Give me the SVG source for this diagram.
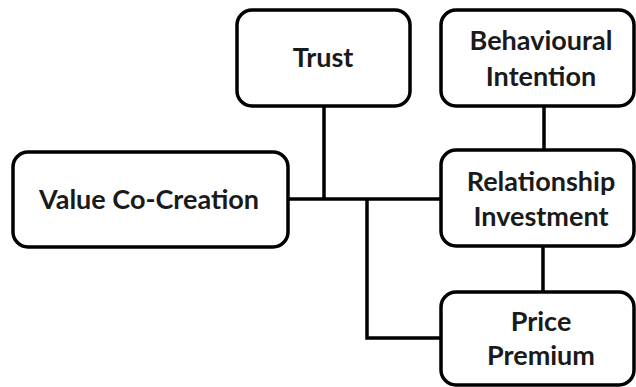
<svg xmlns="http://www.w3.org/2000/svg" width="636" height="387" viewBox="0 0 636 387">
<style>
.box{fill:#fff;stroke:#000;stroke-width:3.5}
.lbl{font-family:Lato,"Open Sans","Liberation Sans",sans-serif;font-weight:bold;font-size:27px;fill:#1a1a1a;text-anchor:middle}
.ln{stroke:#000;stroke-width:3.5;fill:none}
</style>
<rect width="636" height="387" fill="#fff"/>
<g id="connectors">
<line class="ln" x1="324" y1="106" x2="324" y2="199"/>
<line class="ln" x1="288" y1="199" x2="441" y2="199"/>
<polyline class="ln" points="367,199 367,338 441,338"/>
<line class="ln" x1="544" y1="106" x2="544" y2="150"/>
<line class="ln" x1="543" y1="246" x2="543" y2="292"/>
</g>
<g id="trust">
<rect class="box" x="237" y="10" width="173" height="96" rx="15"/>
<text class="lbl" x="323" y="67">Trust</text>
</g>
<g id="value-co-creation">
<rect class="box" x="13" y="152" width="275" height="95" rx="15"/>
<text class="lbl" x="149" y="209">Value Co-Creation</text>
</g>
<g id="behavioural-intention">
<rect class="box" x="441" y="10" width="193" height="96" rx="15"/>
<text class="lbl" x="541" y="50">Behavioural</text>
<text class="lbl" x="541" y="86">Intention</text>
</g>
<g id="relationship-investment">
<rect class="box" x="441" y="150" width="193" height="96" rx="15"/>
<text class="lbl" x="541" y="191">Relationship</text>
<text class="lbl" x="541" y="226">Investment</text>
</g>
<g id="price-premium">
<rect class="box" x="441" y="292" width="193" height="93" rx="15"/>
<text class="lbl" x="541" y="331">Price</text>
<text class="lbl" x="541" y="365">Premium</text>
</g>
</svg>
